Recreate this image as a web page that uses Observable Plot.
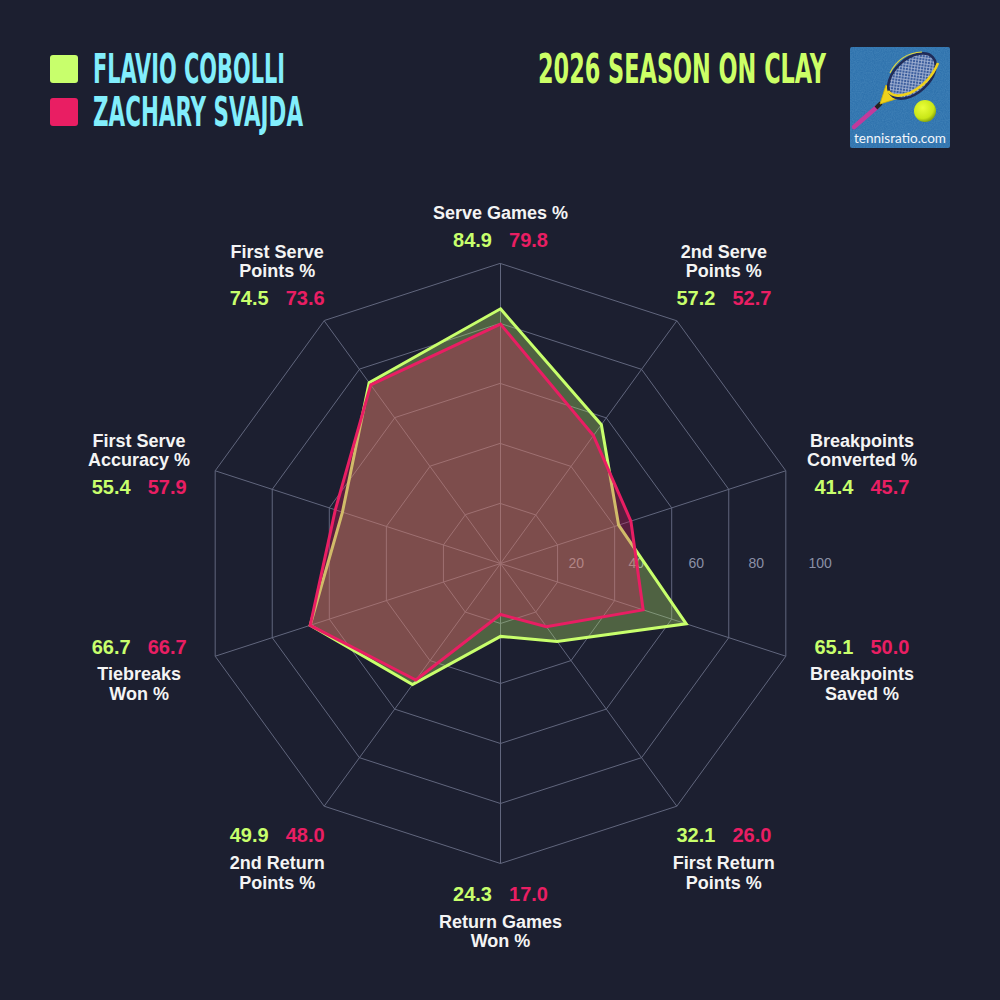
<!DOCTYPE html>
<html>
<head>
<meta charset="utf-8">
<script src="https://cdn.jsdelivr.net/npm/d3@7"></script>
<script src="https://cdn.jsdelivr.net/npm/@observablehq/plot@0.6"></script>
<style>
  html, body { margin: 0; padding: 0; background: #1c1f30; }
  #chart { width: 1000px; height: 1000px; }
  #chart svg { display: block; }
</style>
</head>
<body>
<div id="chart"></div>
<script>
// ---- data ---------------------------------------------------------------
const categories = [
  "Serve Games %",
  "2nd Serve\nPoints %",
  "Breakpoints\nConverted %",
  "Breakpoints\nSaved %",
  "First Return\nPoints %",
  "Return Games\nWon %",
  "2nd Return\nPoints %",
  "Tiebreaks\nWon %",
  "First Serve\nAccuracy %",
  "First Serve\nPoints %"
];
const players = ["Flavio Cobolli", "Zachary Svajda"];
const cobolli = [84.9, 57.2, 41.4, 65.1, 32.1, 24.3, 49.9, 66.7, 55.4, 74.5];
const svajda  = [79.8, 52.7, 45.7, 50.0, 26.0, 17.0, 48.0, 66.7, 57.9, 73.6];
const ringTicks = [20, 40, 60, 80, 100];
const title = "2026 Season on Clay";
const logoText = "tennisratio.com";

// ---- look ---------------------------------------------------------------
const BG = "#1c1f30";
const LIME = "#c8ff6c";
const PINK = "#e91e63";
const CYAN = "#82eefc";
const GRID = "#61667d";
const W = 1000, H = 1000;
const CX = 500, CY = 563;   // centre of the radar, px
const PX = 3;               // px per percentage point (100 % -> 300 px)

// ---- geometry helpers -----------------------------------------------------
const n = categories.length;
const angle = i => (i * 2 * Math.PI) / n;
const polar = (v, i) => ({x: v * Math.sin(angle(i)), y: v * Math.cos(angle(i))});
const ux = px => (px - CX) / PX;
const uy = py => (CY - py) / PX;

const rings = ringTicks.flatMap(t => categories.map((c, i) => ({t, ...polar(t, i)})));
const spokes = categories.map((c, i) => polar(100, i));
const shape = values => values.map((v, i) => polar(v, i));

// label blocks: value row on an outer track, axis name outside of it
const labels = categories.map((name, i) => {
  const s = Math.sin(angle(i)), c = Math.cos(angle(i));
  const px = CX + 380 * s;
  const rv = Math.abs(c) > 0.9 ? 327 : Math.abs(c) > 0.5 ? 332 : 258;
  const py = 567 - rv * c;
  const lines = name.split("\n").length;
  const nameY = c > 0 ? py - (lines === 1 ? 28 : 37.5) : py + (lines === 1 ? 27 : 36.5);
  return {name, vx: ux(px), vy: uy(py), ny: uy(nameY), a: cobolli[i], b: svajda[i]};
});

const chart = Plot.plot({
  width: W,
  height: H,
  margin: 0,
  x: {domain: [ux(0), ux(W)], axis: null},
  y: {domain: [uy(H), uy(0)], axis: null},
  style: {background: BG, fontFamily: "'Liberation Sans', Arial, sans-serif"},
  marks: [
    // grid
    Plot.line(rings, {x: "x", y: "y", z: "t", curve: "linear-closed", stroke: GRID, strokeWidth: 1}),
    Plot.link(spokes, {x1: 0, y1: 0, x2: "x", y2: "y", stroke: GRID, strokeWidth: 1}),
    Plot.text(ringTicks, {x: d => d, y: 0, text: d => String(d), textAnchor: "start", dx: 8,
      fill: "#8b90a6", fontSize: 14}),
    // players
    Plot.line(shape(cobolli), {x: "x", y: "y", curve: "linear-closed", stroke: LIME, strokeWidth: 3,
      fill: LIME, fillOpacity: 0.3, strokeLinejoin: "miter", strokeMiterlimit: 10}),
    Plot.line(shape(svajda), {x: "x", y: "y", curve: "linear-closed", stroke: PINK, strokeWidth: 3,
      fill: PINK, fillOpacity: 0.3, strokeLinejoin: "miter", strokeMiterlimit: 10}),
    // axis names and values
    Plot.text(labels, {x: "vx", y: "ny", text: "name", lineAnchor: "middle", lineHeight: 1.08,
      fontSize: 18, fontWeight: "bold", fill: "#f4f4f4"}),
    Plot.text(labels, {x: "vx", y: "vy", text: d => d.a.toFixed(1), dx: -28,
      fontSize: 20, fontWeight: "bold", fill: LIME}),
    Plot.text(labels, {x: "vx", y: "vy", text: d => d.b.toFixed(1), dx: 28,
      fontSize: 20, fontWeight: "bold", fill: PINK})
  ]
});

// ---- header: legend, title, logo -----------------------------------------
const svg = d3.select(chart);
const condensed = "'Liberation Sans Narrow', 'DejaVu Sans Condensed', 'Roboto', sans-serif";

const legend = svg.append("g").attr("text-anchor", "start");
const legendWidths = [192, 210];
players.forEach((p, k) => {
  const y0 = 55 + k * 43;
  legend.append("rect").attr("x", 50).attr("y", y0).attr("width", 28).attr("height", 28)
    .attr("rx", 3).attr("fill", k === 0 ? LIME : PINK);
  legend.append("text").attr("x", 93).attr("y", y0 + 28).attr("text-anchor", "start")
    .attr("font-family", condensed).attr("font-weight", "bold").attr("font-size", 41)
    .attr("textLength", legendWidths[k]).attr("lengthAdjust", "spacingAndGlyphs")
    .attr("fill", CYAN).text(p.toUpperCase());
});

svg.append("text").attr("x", 538).attr("y", 83).attr("text-anchor", "start")
  .attr("font-family", condensed).attr("font-weight", "bold").attr("font-size", 41)
  .attr("textLength", 288).attr("lengthAdjust", "spacingAndGlyphs")
  .attr("fill", "#ccff66").text(title.toUpperCase());

// logo badge
const defs = svg.append("defs");
const tex = defs.append("filter").attr("id", "court").attr("x", 0).attr("y", 0).attr("width", 1).attr("height", 1);
tex.append("feTurbulence").attr("type", "fractalNoise").attr("baseFrequency", 0.9).attr("numOctaves", 2).attr("result", "noise");
tex.append("feColorMatrix").attr("in", "noise").attr("type", "matrix")
  .attr("values", "0 0 0 0 0.12  0 0 0 0 0.35  0 0 0 0 0.6  0 0 0 0.9 -0.2").attr("result", "tint");
tex.append("feComposite").attr("in", "tint").attr("in2", "SourceGraphic").attr("operator", "in");
const mesh = defs.append("pattern").attr("id", "mesh").attr("width", 3).attr("height", 3)
  .attr("patternUnits", "userSpaceOnUse").attr("patternTransform", "rotate(-40)");
mesh.append("rect").attr("width", 3).attr("height", 3).attr("fill", "#3d5f9e");
mesh.append("path").attr("d", "M0 0.5H3M0.5 0V3").attr("stroke", "#a9b8d6").attr("stroke-width", 0.8);
const ballGrad = defs.append("radialGradient").attr("id", "ball").attr("cx", "40%").attr("cy", "35%").attr("r", "65%");
ballGrad.append("stop").attr("offset", "0%").attr("stop-color", "#eaff3a");
ballGrad.append("stop").attr("offset", "75%").attr("stop-color", "#c9e617");
ballGrad.append("stop").attr("offset", "100%").attr("stop-color", "#8aa80c");

const logo = svg.append("g").attr("transform", "translate(850,47)");
logo.append("rect").attr("width", 100).attr("height", 101).attr("rx", 2).attr("fill", "#2f72ad");
logo.append("rect").attr("width", 100).attr("height", 101).attr("rx", 2).attr("fill", "#2f72ad")
  .attr("filter", "url(#court)").attr("opacity", 0.55);
// handle and throat
logo.append("path").attr("d", "M4 80 L27 60").attr("stroke", "#c23a9c").attr("stroke-width", 4.5).attr("stroke-linecap", "round");
logo.append("path").attr("d", "M26 61 L31 56").attr("stroke", "#222").attr("stroke-width", 4);
logo.append("path").attr("d", "M30 57 L36 38 L52 50 Z").attr("fill", "#f0d21c").attr("stroke", "#d4b400").attr("stroke-width", 0.8);
// head
logo.append("ellipse").attr("cx", 62).attr("cy", 29).attr("rx", 28).attr("ry", 17)
  .attr("transform", "rotate(-42 62 29)").attr("fill", "url(#mesh)")
  .attr("stroke", "#1f2b58").attr("stroke-width", 2.6);
logo.append("path").attr("d", "M38 44 Q44 52 60 46 Q80 36 88 16")
  .attr("fill", "none").attr("stroke", "#f0d21c").attr("stroke-width", 2.6);
logo.append("path").attr("d", "M40 26 Q50 6 72 5")
  .attr("fill", "none").attr("stroke", "#e6d83a").attr("stroke-width", 1.2);
// ball
logo.append("circle").attr("cx", 75).attr("cy", 64).attr("r", 11).attr("fill", "url(#ball)");
logo.append("text").attr("x", 50).attr("y", 96).attr("text-anchor", "middle")
  .attr("font-family", "Lato, 'Open Sans', sans-serif").attr("font-size", 13)
  .attr("textLength", 92).attr("lengthAdjust", "spacingAndGlyphs")
  .attr("fill", "#f2f6fb").text(logoText);

document.getElementById("chart").appendChild(chart);
</script>
</body>
</html>
